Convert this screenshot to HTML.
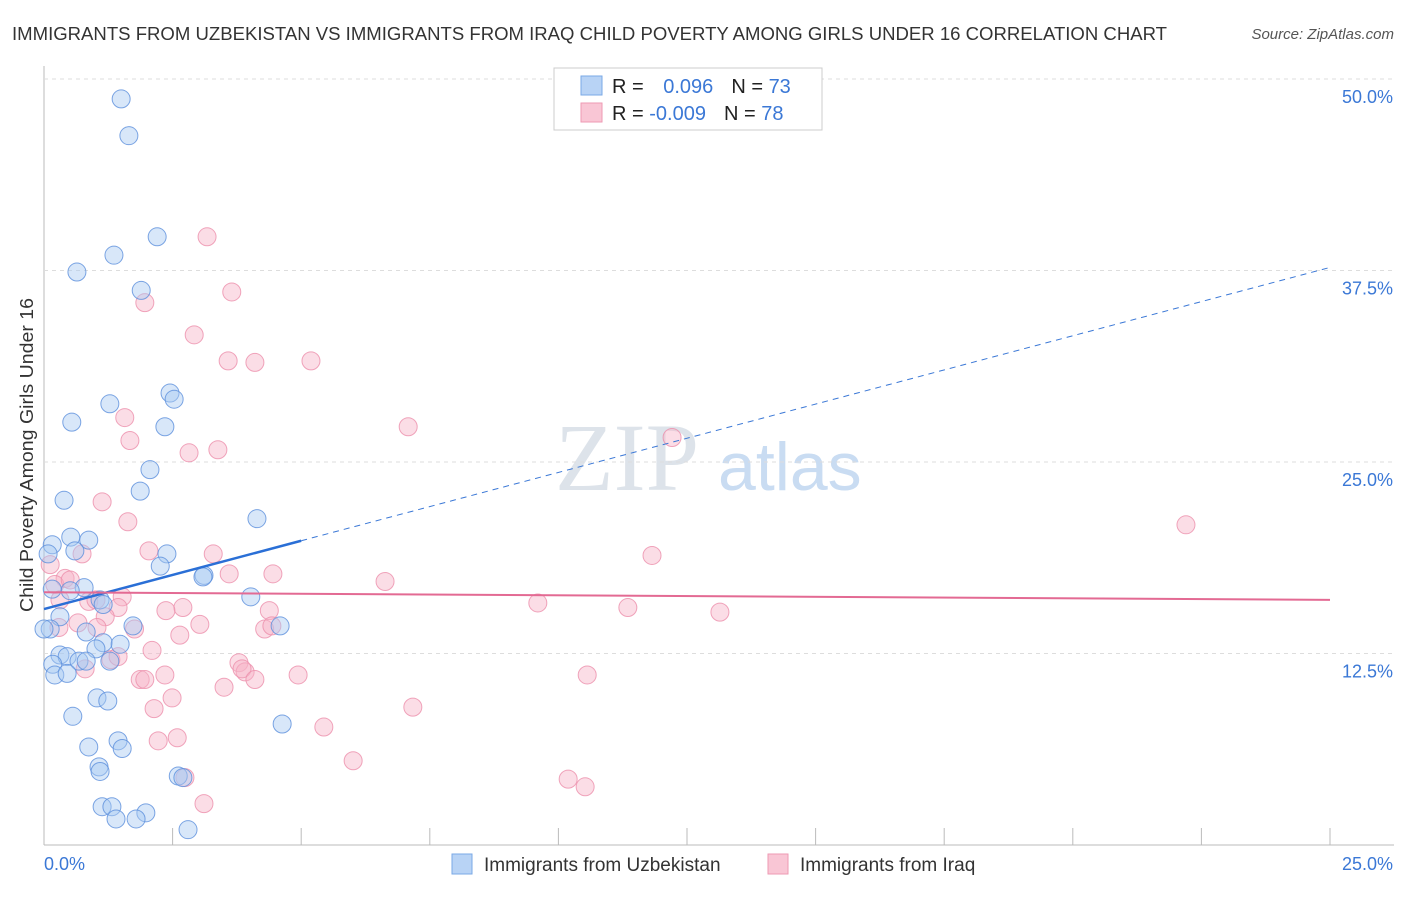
<!DOCTYPE html>
<html><head><meta charset="utf-8"><style>
body{margin:0;background:#fff;font-family:"Liberation Sans",sans-serif;}
</style></head><body>
<svg id="c" width="1406" height="892" xmlns="http://www.w3.org/2000/svg">
<text x="12" y="40" font-size="18" fill="#333" textLength="1155" lengthAdjust="spacingAndGlyphs">IMMIGRANTS FROM UZBEKISTAN VS IMMIGRANTS FROM IRAQ CHILD POVERTY AMONG GIRLS UNDER 16 CORRELATION CHART</text>
<text x="1394" y="39" font-size="15" fill="#555" font-style="italic" text-anchor="end">Source: ZipAtlas.com</text>
<text x="33" y="455" font-size="18" fill="#333" text-anchor="middle" textLength="314" lengthAdjust="spacingAndGlyphs" transform="rotate(-90 33 455)">Child Poverty Among Girls Under 16</text>
<text x="555" y="490" font-size="96" fill="#dde3ea" font-family="Liberation Serif,serif">ZIP</text>
<text x="718" y="490" font-size="68" fill="#c9dcf2">atlas</text>
<g id="grid"></g><g id="pts"></g><g id="lines"></g>
<g>
<rect x="554" y="68" width="268" height="62" fill="#fff" stroke="#ccc"/>
<rect x="581" y="76" width="21" height="19" fill="#b8d3f5" stroke="#7aa8e6"/>
<rect x="581" y="103" width="21" height="19" fill="#f9c6d5" stroke="#ee9ab3"/>
<text font-size="20" fill="#222" x="612" y="93">R = <tspan fill="#3b78d6" dx="14">0.096</tspan><tspan dx="18">N = </tspan><tspan fill="#3b78d6">73</tspan></text>
<text font-size="20" fill="#222" x="612" y="120">R = <tspan fill="#3b78d6">-0.009</tspan><tspan dx="18">N = </tspan><tspan fill="#3b78d6">78</tspan></text>
</g>
<g>
<rect x="452" y="854" width="20" height="20" fill="#b8d3f5" stroke="#7aa8e6"/>
<text x="484" y="871" font-size="19" fill="#333">Immigrants from Uzbekistan</text>
<rect x="768" y="854" width="20" height="20" fill="#f9c6d5" stroke="#ee9ab3"/>
<text x="800" y="871" font-size="19" fill="#333">Immigrants from Iraq</text>
</g>
</svg>
<script>
const yTicks=[12.5,25,37.5,50];
const yTickLabels=["12.5%","25.0%","37.5%","50.0%"];
const xTickVals=[0,2.5,5,7.5,10,12.5,15,17.5,20,22.5,25];
const xLabels=["0.0%","25.0%"];
const blueX=[1.50,1.65,2.20,1.36,0.64,1.89,2.45,2.53,1.28,2.35,0.54,2.06,1.87,0.39,4.14,0.52,0.87,0.16,0.60,2.39,2.26,3.11,3.09,0.78,0.51,4.02,1.09,1.15,0.31,0.12,0.82,1.73,4.59,1.15,1.48,1.01,0.31,0.45,0.17,0.68,0.82,1.28,0.21,0.45,1.03,1.24,0.56,4.63,0.87,1.44,1.52,1.07,1.09,2.61,2.70,1.13,1.32,1.40,1.98,1.79,2.80,0,0.08,0.16];
const blueY=[48.7,46.3,39.7,38.5,37.4,36.2,29.5,29.1,28.8,27.3,27.6,24.5,23.1,22.5,21.3,20.1,19.9,19.6,19.2,19.0,18.2,17.6,17.5,16.8,16.6,16.2,16.0,15.7,14.9,14.1,13.9,14.3,14.3,13.2,13.1,12.8,12.4,12.3,11.8,12.0,12.0,12.0,11.1,11.2,9.6,9.4,8.4,7.9,6.4,6.8,6.3,5.1,4.8,4.5,4.4,2.5,2.5,1.7,2.1,1.7,1.0,14.1,19.0,16.7];
const pinkX=[3.17,3.65,1.96,2.92,3.58,4.10,5.19,1.57,7.08,1.67,12.21,2.82,3.38,1.13,22.2,1.63,2.04,3.29,0.74,11.82,3.60,4.45,6.63,0.41,0.12,0.21,0.51,1.52,0.87,9.60,11.35,13.14,2.70,2.37,1.44,4.38,1.19,0.29,0.66,3.03,1.76,1.03,2.64,4.29,4.43,2.10,1.30,3.79,3.91,3.85,4.94,2.35,1.87,1.96,4.10,3.50,10.56,2.49,2.14,7.17,2.22,2.59,5.44,6.01,3.11,10.19,10.52,2.74,0.80,1.44,0.31,1.01];
const pinkY=[39.7,36.1,35.4,33.3,31.6,31.5,31.6,27.9,27.3,26.4,26.6,25.6,25.8,22.4,20.9,21.1,19.2,19.0,19.0,18.9,17.7,17.7,17.2,17.4,18.3,17.0,17.3,16.2,15.9,15.8,15.5,15.2,15.5,15.3,15.5,15.3,14.9,14.2,14.5,14.4,14.1,14.2,13.7,14.1,14.3,12.7,12.1,11.9,11.3,11.5,11.1,11.1,10.8,10.8,10.8,10.3,11.1,9.6,8.9,9.0,6.8,7.0,7.7,5.5,2.7,4.3,3.8,4.4,11.5,12.3,16.0,16.0];
const blueFit=[15.4,37.7];
const blueSolidEnd=5.0;
const pinkFit=[16.5,16.0];
const X0=44,X1=1330,Y0=845;
function xs(v){return X0+v/25*(X1-X0);}
function ys(v){return Y0-v*15.32;}
const NS="http://www.w3.org/2000/svg";
function mk(t,a,p){const e=document.createElementNS(NS,t);for(const k in a)e.setAttribute(k,a[k]);p.appendChild(e);return e;}
const grid=document.getElementById('grid'),pts=document.getElementById('pts'),lines=document.getElementById('lines');
let ax=mk('line',{x1:X0,y1:66,x2:X0,y2:Y0,stroke:'#bbb'},grid);


let bx=mk('line',{x1:X0,y1:Y0,x2:1394,y2:Y0,stroke:'#bbb'},grid);


yTicks.forEach((t,i)=>{
 const g=mk('line',{x1:X0,y1:ys(t),x2:1394,y2:ys(t),stroke:'#ddd','stroke-dasharray':'4 4'},grid);
 
 
 const l=mk('text',{x:1393,y:ys(t)+24,'font-size':18,fill:'#3b78d6','text-anchor':'end'},grid);
 l.textContent=yTickLabels[i];
 
 
});
xTickVals.forEach(t=>{
 const k=mk('line',{x1:xs(t),y1:828,x2:xs(t),y2:Y0,stroke:'#bbb'},grid);
 
 
});
let xl0=mk('text',{x:44,y:870,'font-size':18,fill:'#3b78d6'},grid);xl0.textContent=xLabels[0];


let xl1=mk('text',{x:1393,y:870,'font-size':18,fill:'#3b78d6','text-anchor':'end'},grid);xl1.textContent=xLabels[1];


function dots(X,Y,fill,stroke,name){X.forEach((x,i)=>{
 const c=mk('circle',{cx:xs(x),cy:ys(Y[i]),r:9,fill:fill,'fill-opacity':0.45,stroke:stroke,'stroke-opacity':0.8,'stroke-width':1},pts);
 
 
});}
dots(pinkX,pinkY,'#f7b3c8','#ec8fab','iraq-point');
dots(blueX,blueY,'#a9c9f2','#5b8fdc','uzbekistan-point');
function fy(f,x){return f[0]+(f[1]-f[0])*x/25;}
let bd=mk('line',{x1:xs(blueSolidEnd),y1:ys(fy(blueFit,blueSolidEnd)),x2:xs(25),y2:ys(fy(blueFit,25)),stroke:'#3b78d6','stroke-width':1,'stroke-dasharray':'6 5'},lines);


let bs=mk('line',{x1:xs(0),y1:ys(fy(blueFit,0)),x2:xs(blueSolidEnd),y2:ys(fy(blueFit,blueSolidEnd)),stroke:'#2a6fd6','stroke-width':2.5},lines);


let pl=mk('line',{x1:xs(0),y1:ys(fy(pinkFit,0)),x2:xs(25),y2:ys(fy(pinkFit,25)),stroke:'#e36a93','stroke-width':2},lines);


</script>
</body></html>
